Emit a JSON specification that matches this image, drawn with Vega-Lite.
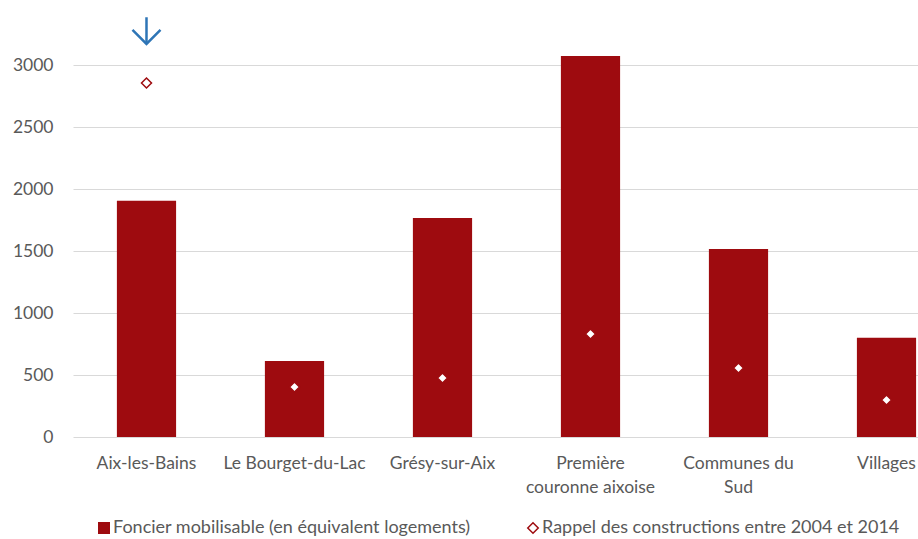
{
  "$schema": "https://vega.github.io/schema/vega-lite/v6.json",
  "width": 845,
  "height": 434,
  "autosize": {"type": "none"},
  "padding": {"left": 73, "top": 3, "right": 0, "bottom": 102},
  "background": "white",
  "config": {
    "view": {"stroke": null},
    "font": "Lato",
    "axis": {"labelFont": "Lato", "labelFontSize": 17.5, "labelColor": "#595959", "title": null},
    "legend": {"labelFont": "Lato", "labelFontSize": 18, "labelColor": "#595959"}
  },
  "datasets": {
    "main": [
      {"commune": "Aix-les-Bains", "serie": "Foncier mobilisable (en équivalent logements)", "valeur": 1905},
      {"commune": "Le Bourget-du-Lac", "serie": "Foncier mobilisable (en équivalent logements)", "valeur": 613},
      {"commune": "Grésy-sur-Aix", "serie": "Foncier mobilisable (en équivalent logements)", "valeur": 1766},
      {"commune": "Première couronne aixoise", "serie": "Foncier mobilisable (en équivalent logements)", "valeur": 3073},
      {"commune": "Communes du Sud", "serie": "Foncier mobilisable (en équivalent logements)", "valeur": 1516},
      {"commune": "Villages", "serie": "Foncier mobilisable (en équivalent logements)", "valeur": 800},
      {"commune": "Aix-les-Bains", "serie": "Rappel des constructions entre 2004 et 2014", "valeur": 2855},
      {"commune": "Le Bourget-du-Lac", "serie": "Rappel des constructions entre 2004 et 2014", "valeur": 403},
      {"commune": "Grésy-sur-Aix", "serie": "Rappel des constructions entre 2004 et 2014", "valeur": 476},
      {"commune": "Première couronne aixoise", "serie": "Rappel des constructions entre 2004 et 2014", "valeur": 831},
      {"commune": "Communes du Sud", "serie": "Rappel des constructions entre 2004 et 2014", "valeur": 556},
      {"commune": "Villages", "serie": "Rappel des constructions entre 2004 et 2014", "valeur": 298}
    ],
    "fleche": [
      {"commune": "Aix-les-Bains", "bas": 3170, "haut": 3385}
    ]
  },
  "layer": [
    {
      "data": {"name": "main"},
      "transform": [{"filter": "datum.serie == 'Foncier mobilisable (en équivalent logements)'"}],
      "mark": {"type": "bar"},
      "encoding": {
        "x": {
          "field": "commune", "type": "nominal",
          "scale": {"domain": ["Aix-les-Bains", "Le Bourget-du-Lac", "Grésy-sur-Aix", "Première couronne aixoise", "Communes du Sud", "Villages"], "paddingInner": 0.6, "paddingOuter": 0.1547, "align": 0.9585},
          "axis": {"domain": false, "ticks": false, "tickSize": 0, "grid": false, "labelAngle": 0, "labelPadding": 17, "labelLineHeight": 24, "labelLimit": 300,
            "labelExpr": "datum.value == 'Première couronne aixoise' ? ['Première', 'couronne aixoise'] : datum.value == 'Communes du Sud' ? ['Communes du', 'Sud'] : datum.value"}
        },
        "y": {
          "field": "valeur", "type": "quantitative",
          "scale": {"domain": [0, 3500], "nice": false},
          "axis": {"values": [0, 500, 1000, 1500, 2000, 2500, 3000], "format": "d", "domain": false, "ticks": false, "tickSize": 0, "labelPadding": 20, "grid": true, "gridColor": "#D9D9D9", "gridWidth": 1}
        },
        "fill": {
          "field": "serie", "type": "nominal",
          "scale": {"domain": ["Foncier mobilisable (en équivalent logements)", "Rappel des constructions entre 2004 et 2014"], "range": ["#9E0B0F", "white"]},
          "legend": {
            "title": null, "orient": "none", "direction": "horizontal", "legendX": 22, "legendY": 516,
            "padding": 0, "labelLimit": 500, "columnPadding": 53, "labelOffset": 0, "symbolSize": 110, "symbolStrokeWidth": 1.5
          }
        }
      }
    },
    {
      "data": {"name": "main"},
      "transform": [{"filter": "datum.serie == 'Rappel des constructions entre 2004 et 2014'"}],
      "mark": {"type": "point", "filled": true, "strokeWidth": 1.5, "size": 100, "opacity": 1},
      "encoding": {
        "x": {"field": "commune", "type": "nominal"},
        "y": {"field": "valeur", "type": "quantitative"},
        "fill": {"field": "serie", "type": "nominal"},
        "stroke": {
          "field": "serie", "type": "nominal",
          "scale": {"domain": ["Foncier mobilisable (en équivalent logements)", "Rappel des constructions entre 2004 et 2014"], "range": ["#9E0B0F", "#9E0B0F"]}
        },
        "shape": {
          "field": "serie", "type": "nominal",
          "scale": {"domain": ["Foncier mobilisable (en équivalent logements)", "Rappel des constructions entre 2004 et 2014"], "range": ["square", "diamond"]}
        }
      }
    },
    {
      "data": {"name": "fleche"},
      "mark": {"type": "rule", "color": "#2E75B6", "strokeWidth": 2.5},
      "encoding": {
        "x": {"field": "commune", "type": "nominal"},
        "y": {"field": "bas", "type": "quantitative"},
        "y2": {"field": "haut"}
      }
    },
    {
      "data": {"name": "fleche"},
      "mark": {"type": "point", "shape": "M-1,-1L0,0L1,-1", "filled": false, "color": "#2E75B6", "strokeWidth": 2.5, "size": 784, "opacity": 1},
      "encoding": {
        "x": {"field": "commune", "type": "nominal"},
        "y": {"field": "bas", "type": "quantitative"}
      }
    }
  ]
}
